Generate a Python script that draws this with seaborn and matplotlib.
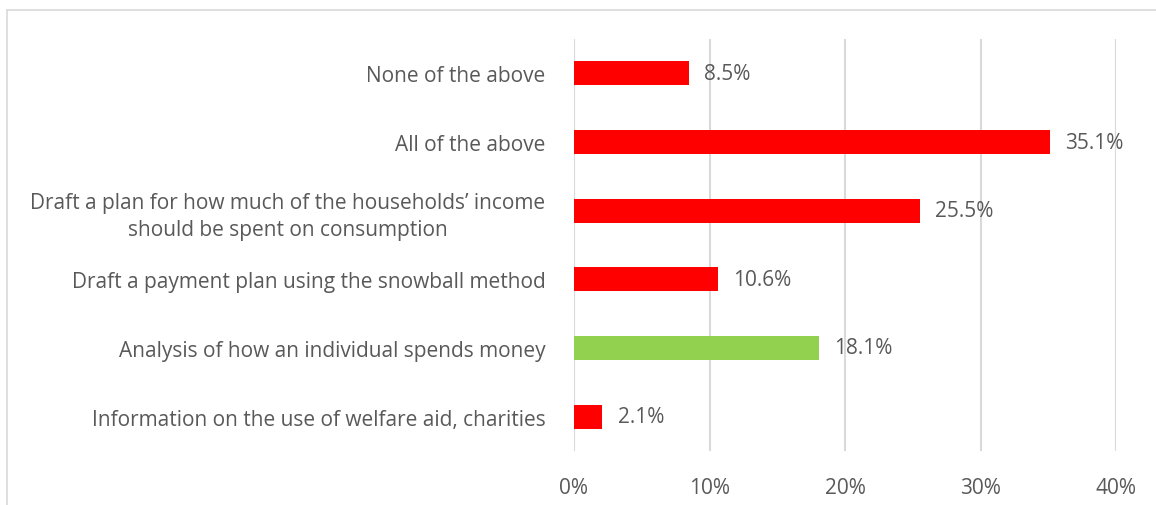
import matplotlib
matplotlib.use("Agg")
import matplotlib.pyplot as plt
from matplotlib.lines import Line2D
import seaborn as sns
import pandas as pd

categories = [
    "None of the above",
    "All of the above",
    "Draft a plan for how much of the households\u2019 income\nshould be spent on consumption",
    "Draft a payment plan using the snowball method",
    "Analysis of how an individual spends money",
    "Information on the use of welfare aid, charities",
]
values = [8.5, 35.1, 25.5, 10.6, 18.1, 2.1]
bar_colors = ["#FF0000", "#FF0000", "#FF0000", "#FF0000", "#92D050", "#FF0000"]
xticks = [0, 10, 20, 30, 40]
xtick_labels = ["0%", "10%", "20%", "30%", "40%"]

sns.set_theme(style="white")
plt.rcParams["font.family"] = ["Open Sans", "DejaVu Sans"]

df = pd.DataFrame({"category": categories, "value": values})

W, H = 1156, 506
fig = plt.figure(figsize=(W / 100, H / 100), dpi=100)
ax = fig.add_axes([574 / W, 1 - 452 / H, (1116 - 574) / W, (452 - 40) / H])

sns.barplot(data=df, y="category", x="value", hue="category",
            palette=bar_colors, legend=False, width=0.35, ax=ax,
            saturation=1, edgecolor="none")

text_color = "#595959"
fs = 15
ax.set_xlim(0, 40)
ax.set_ylim(len(categories) - 0.5, -0.5)
ax.set_xticks(xticks)
ax.set_xticklabels(xtick_labels)
ax.xaxis.grid(True, color="#d9d9d9", linewidth=1.5)
ax.set_axisbelow(True)
ax.tick_params(axis="x", length=0, pad=19, labelsize=fs, labelcolor=text_color)
ax.tick_params(axis="y", length=0, pad=20.5, labelsize=fs, labelcolor=text_color)
for lab in ax.get_yticklabels():
    lab.set_horizontalalignment("right")
    lab.set_multialignment("center")
    lab.set_linespacing(1.35)
ax.set_xlabel("")
ax.set_ylabel("")
for s in ax.spines.values():
    s.set_visible(False)

for i, v in enumerate(values):
    ax.annotate(f"{v:.1f}%", xy=(v, i), xytext=(11, 0),
                textcoords="offset points", va="center", ha="left",
                fontsize=fs, color=text_color)

# outer chart frame (top and left edges)
frame_color = "#d9d9d9"
fig.add_artist(Line2D([7 / W, 1.0], [1 - 11 / H, 1 - 11 / H],
                      transform=fig.transFigure, color=frame_color, linewidth=1.2))
fig.add_artist(Line2D([7 / W, 7 / W], [0.0, 1 - 11 / H],
                      transform=fig.transFigure, color=frame_color, linewidth=1.2))

fig.savefig("out.png", dpi=100)
